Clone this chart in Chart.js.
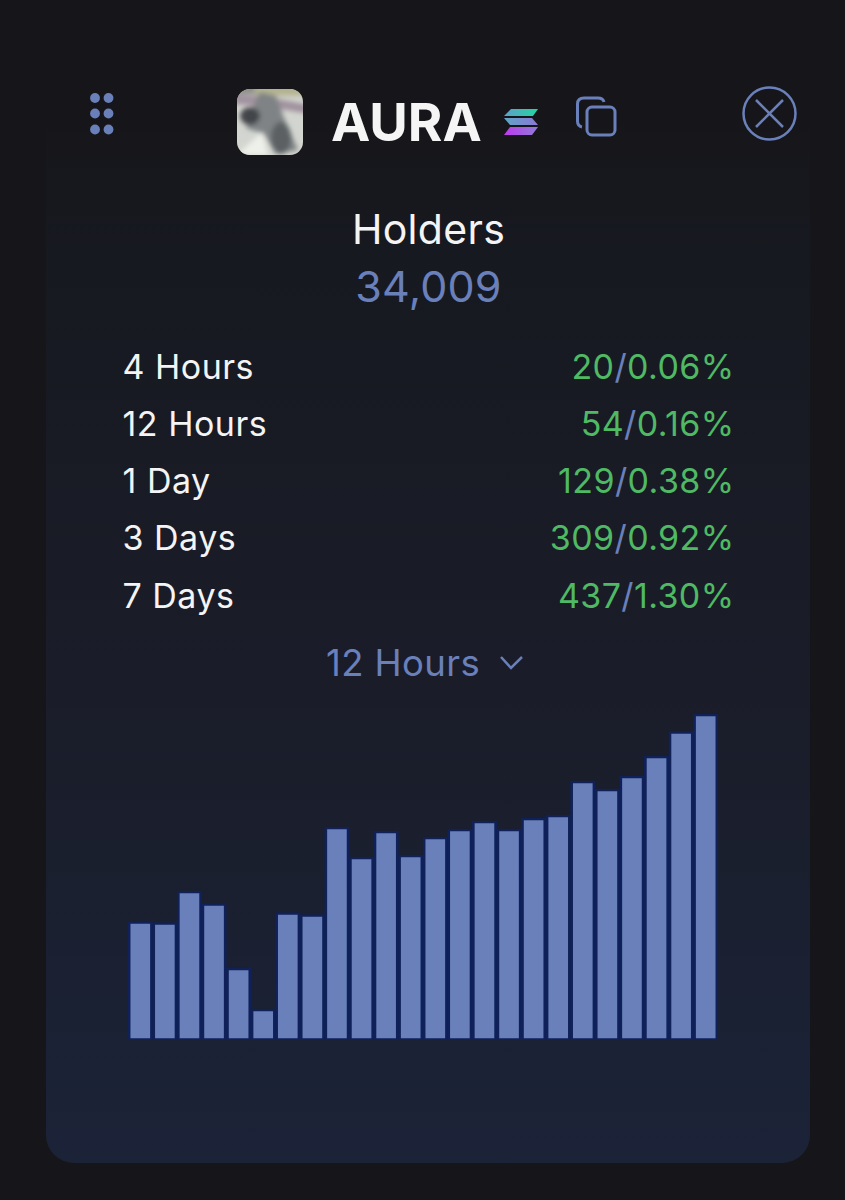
<!DOCTYPE html>
<html><head><meta charset="utf-8">
<script src="https://cdn.jsdelivr.net/npm/chart.js@4/dist/chart.umd.min.js"></script>
<style>
html,body{margin:0;padding:0;background:#16161a;width:845px;height:1200px;overflow:hidden}
#card{position:absolute;left:46px;top:120px;width:764px;height:1043px;border-radius:0 0 28px 28px;background:linear-gradient(180deg,#16161a 0%,#171920 12%,#1a1d29 55%,#1b2338 100%)}
#ov{position:absolute;left:0;top:0}
#wrap{position:absolute;left:128px;top:700px;width:590px;height:340px}
text{font-family:Inter,sans-serif}
</style></head><body>
<div id="card"></div>
<svg id="ov" width="845" height="1200" xmlns="http://www.w3.org/2000/svg">
<defs>
<filter id="b3"><feGaussianBlur stdDeviation="2.500"/></filter>
<clipPath id="av"><rect x="237" y="89" width="66" height="66" rx="13"/></clipPath>
<linearGradient id="s1" x1="0" x2="1" y1="0" y2="0"><stop offset="0" stop-color="#5f9fc8"/><stop offset="1" stop-color="#22d6a2"/></linearGradient>
<linearGradient id="s2" x1="0" x2="1" y1="0" y2="0"><stop offset="0" stop-color="#5fa6c4"/><stop offset="1" stop-color="#8a78d8"/></linearGradient>
<linearGradient id="s3" x1="0" x2="1" y1="0" y2="0"><stop offset="0" stop-color="#c038ee"/><stop offset="1" stop-color="#8f7cd8"/></linearGradient>
</defs>
<g clip-path="url(#av)">
<rect x="237" y="89" width="66" height="66" fill="#d3d6d0"/>
<g filter="url(#b3)">
<rect x="255" y="82" width="55" height="14" fill="#b3b393"/>
<rect x="230" y="82" width="25" height="12" fill="#8d8f88"/>
<path d="M230 94 L262 96 L310 105 L310 114 L262 106 L230 104Z" fill="#a0929f"/>
<path d="M260 92 L276 96 L284 118 L298 150 L276 154 L264 134 L246 128 L254 104Z" fill="#7f8385"/>
<ellipse cx="250" cy="116" rx="10" ry="9" fill="#43454a"/>
<ellipse cx="281" cy="138" rx="10" ry="16" fill="#5c6063"/>
<path d="M237 155 L262 132 L268 155Z" fill="#eef0ea"/>
</g>
</g>
<g id="dots" fill="#6a80bb">
<circle cx="95" cy="98" r="4.900"/><circle cx="108.500" cy="98" r="4.900"/>
<circle cx="95" cy="113.500" r="4.900"/><circle cx="108.500" cy="113.500" r="4.900"/>
<circle cx="95" cy="129.500" r="4.900"/><circle cx="108.500" cy="129.500" r="4.900"/>
</g>
<text x="331" y="141" font-size="52.700" font-weight="700" fill="#f5f5f5" id="aura">AURA</text>
<path fill="url(#s1)" d="M511 109 H538 L533 116 H504Z"/>
<path fill="url(#s2)" d="M504 118 H532 L538 125 H510Z"/>
<path fill="url(#s3)" d="M510 127 H538 L532 135 H504Z"/>
<g fill="none" stroke="#6a80bb" stroke-width="3">
<rect x="587" y="107" width="28" height="28" rx="5"/>
<path d="M582 127 Q577.500 126 577.500 121 V104 Q577.500 98 584 98 H598 Q603 98 604 102"/>
</g>
<g fill="none" stroke="#6a80bb" stroke-width="2.500">
<circle cx="769.500" cy="113.500" r="26"/>
<path d="M756 100 L783 127 M783 100 L756 127"/>
</g>
<path d="M501 657 L511 668 L522 657" fill="none" stroke="#6a80bb" stroke-width="2.500"/>
<g id="txt"></g>
</svg>
<div id="wrap"><canvas id="c" width="590" height="340"></canvas></div>
<script>
const tokenName = "AURA";
const metricTitle = "Holders";
const metricValue = "34,009";
const periods = ["4 Hours","12 Hours","1 Day","3 Days","7 Days"];
const counts = ["20","54","129","309","437"];
const percents = ["0.06%","0.16%","0.38%","0.92%","1.30%"];
const selected = "12 Hours";
const barLabels = ["1","2","3","4","5","6","7","8","9","10","11","12","13","14","15","16","17","18","19","20","21","22","23","24"];
const barValues = [118.5,117.5,149,136.5,72,31,127.5,125.5,213,183,209,185,203,211,219,211,222,225,259,251,264,284,308.5,326];

const NS="http://www.w3.org/2000/svg", g=document.getElementById('txt');
function t(parts,x,y,size,anchor,ls){
  const e=document.createElementNS(NS,'text');
  e.setAttribute('x',x);e.setAttribute('y',y);e.setAttribute('font-size',size);
  e.setAttribute('text-anchor',anchor);e.setAttribute('font-weight',400);
  if(ls)e.setAttribute('letter-spacing',ls);
  parts.forEach(([s,c])=>{const p=document.createElementNS(NS,'tspan');p.textContent=s;p.setAttribute('fill',c);e.appendChild(p);});
  g.appendChild(e);
}
const WHITE="#f4f4f4",BLUE="#6a80bb",GREEN="#4fb964";
document.getElementById('aura').textContent=tokenName;
t([[metricTitle,WHITE]],428.5,244,41,'middle',0.3);
t([[metricValue,BLUE]],428.5,302,43,'middle',0.2);
const rowY=[378.5,435.5,492.5,549.5,607.5];
periods.forEach((p,i)=>{
  t([[p,WHITE]],122.5,rowY[i],34,'start',0.5);
  t([[counts[i],GREEN],["/",BLUE],[percents[i],GREEN]],734.5,rowY[i],34,'end',0.4);
});
t([[selected,BLUE]],403,675.5,36.5,'middle',0.4);

new Chart(document.getElementById('c'),{
  type:'bar',
  data:{labels:barLabels,datasets:[{data:barValues,backgroundColor:'#6a80bb',borderColor:'#0f2158',
    borderWidth:{top:2.5,left:2.8,right:2.8,bottom:2},borderSkipped:false,barPercentage:1,categoryPercentage:1}]},
  options:{responsive:false,animation:false,events:[],
    layout:{padding:0},
    plugins:{legend:{display:false},tooltip:{enabled:false},title:{display:false}},
    scales:{x:{display:false},y:{display:false,min:0,max:340}}}
});
</script>
</body></html>
